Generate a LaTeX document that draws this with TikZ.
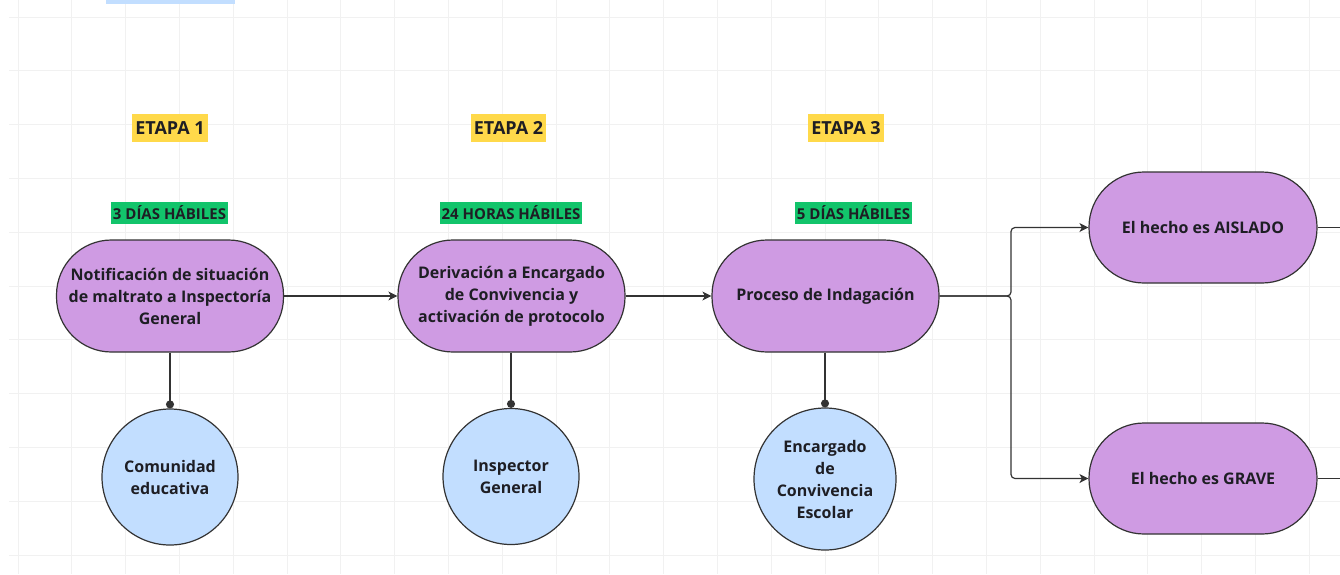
\documentclass[tikz,border=0pt]{standalone}
\usepackage{fontspec}
\setmainfont{Open Sans}
\usetikzlibrary{arrows.meta,shapes.geometric}
\definecolor{purp}{HTML}{CF9BE3}
\definecolor{lblue}{HTML}{C2DEFF}
\definecolor{yell}{HTML}{FFD94A}
\definecolor{grn}{HTML}{12C46B}
\definecolor{ink}{HTML}{1E1E24}
\definecolor{edge}{HTML}{333333}
\definecolor{gridc}{HTML}{F1F1F1}
\begin{document}
\begin{tikzpicture}[x=1pt,y=-1pt,
  pill/.style={draw=edge, line width=1.2pt, fill=purp, rectangle, rounded corners=55pt,
    minimum width=227pt, minimum height=112pt, align=center, text=ink,
    font=\fontsize{16}{22}\selectfont\bfseries},
  rolecirc/.style={draw=edge, line width=1.2pt, fill=lblue, circle, minimum size=136pt,
    inner sep=0pt, align=center, text=ink, font=\fontsize{16}{22}\selectfont\bfseries},
  etapa/.style={fill=yell, inner xsep=3pt, inner ysep=0pt, minimum height=28pt, text=ink,
    font=\fontsize{18}{20}\selectfont\bfseries},
  plazo/.style={fill=grn, inner xsep=1.5pt, inner ysep=0pt, minimum height=22pt, text=ink,
    font=\fontsize{15}{16}\selectfont\bfseries},
  flow/.style={draw=edge, line width=1.2pt, -{Stealth[length=9pt,width=9pt,inset=2.5pt]}},
  link/.style={draw=edge, line width=1.2pt, -{Circle[length=8pt]}},
  branch/.style={flow, rounded corners=4pt},
  plain/.style={draw=edge, line width=1.2pt}
]
\useasboundingbox (0,0) rectangle (1340,574);
\fill[white] (0,0) rectangle (1340,574);
% grid
\begin{scope}
\clip (9,0) rectangle (1340,574);
\foreach \i in {0,...,24} {\draw[gridc, line width=1pt] (18+53.8*\i,0) -- (18+53.8*\i,574);}
\foreach \j in {0,...,10} {\draw[gridc, line width=1pt] (9,17+53.8*\j) -- (1340,17+53.8*\j);}
\end{scope}
% partial blue rectangle at top
\fill[lblue] (106,0) rectangle (235,4);

% stage labels
\node[etapa] (e1) at (170,128) {ETAPA 1};
\node[etapa] (e2) at (508.5,128) {ETAPA 2};
\node[etapa] (e3) at (846,128) {ETAPA 3};
\node[plazo] (p1) at (169.5,213) {3 DÍAS HÁBILES};
\node[plazo] (p2) at (511,213) {24 HORAS HÁBILES};
\node[plazo] (p3) at (853.5,213) {5 DÍAS HÁBILES};

% process nodes
\node[pill] (n1) at (170,296) {Notificación de situación\\de maltrato a Inspectoría\\General};
\node[pill] (n2) at (511.5,296) {Derivación a Encargado\\de Convivencia y\\activación de protocolo};
\node[pill] (n3) at (825.5,296) {Proceso de Indagación};
\node[pill, minimum width=228pt, minimum height=111pt] (ais) at (1203,227.5) {El hecho es AISLADO};
\node[pill, minimum width=228pt, minimum height=111pt] (grv) at (1203,478.5) {El hecho es GRAVE};

% role circles
\node[rolecirc] (c1) at (170,477) {Comunidad\\educativa};
\node[rolecirc] (c2) at (511,476.5) {Inspector\\General};
\node[rolecirc, minimum size=142pt] (c3) at (825,479) {Encargado\\de\\Convivencia\\Escolar};

% connectors
\draw[flow] (n1) -- (n2);
\draw[flow] (n2) -- (n3);
\coordinate (fork) at (1011,296);
\draw[branch] (n3.east) -- (fork) |- (ais.west);
\draw[branch] (n3.east) -- (fork) |- (grv.west);
\coordinate (aisout) at (1345,227.5);
\coordinate (grvout) at (1345,478.5);
\draw[plain] (ais.east) -- (aisout);
\draw[plain] (grv.east) -- (grvout);
\draw[link] (n1.south) -- (c1.north);
\draw[link] (n2.south -| c2.north) -- (c2.north);
\draw[link] (n3.south -| c3.north) -- (c3.north);
\end{tikzpicture}
\end{document}
